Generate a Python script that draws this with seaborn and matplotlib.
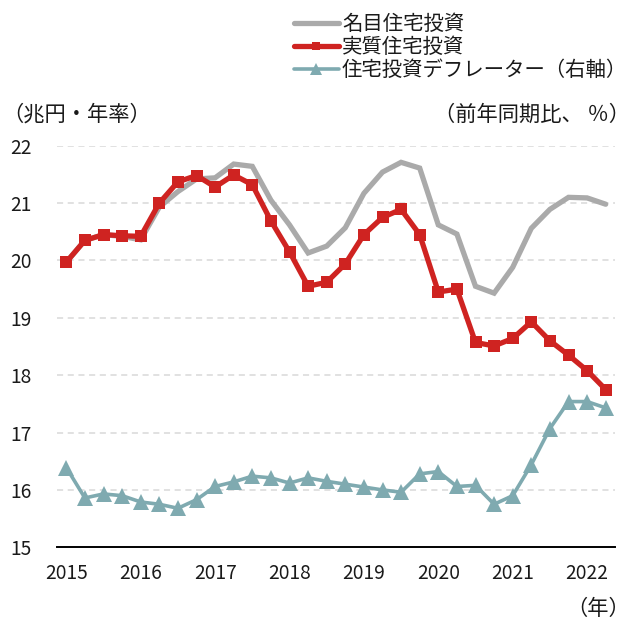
import numpy as np
import pandas as pd
import matplotlib
matplotlib.use("Agg")
import matplotlib.pyplot as plt
import seaborn as sns

# Quarterly series, 2015Q1 - 2022Q2
quarters = [f"{y}Q{q}" for y in range(2015, 2023) for q in range(1, 5)][:30]
nominal = [19.97, 20.35, 20.45, 20.42, 20.36, 20.93, 21.20, 21.42, 21.44, 21.68,
           21.64, 21.05, 20.62, 20.13, 20.25, 20.57, 21.17, 21.54, 21.71, 21.61,
           20.62, 20.46, 19.55, 19.43, 19.88, 20.56, 20.89, 21.10, 21.09, 20.98]
real = [19.97, 20.35, 20.45, 20.43, 20.42, 21.00, 21.37, 21.48, 21.28, 21.49,
        21.32, 20.69, 20.15, 19.55, 19.62, 19.94, 20.45, 20.75, 20.89, 20.45,
        19.45, 19.50, 18.57, 18.51, 18.64, 18.93, 18.60, 18.35, 18.08, 17.75]
deflator = [16.39, 15.86, 15.93, 15.90, 15.79, 15.75, 15.68, 15.83, 16.06, 16.14,
            16.24, 16.21, 16.12, 16.21, 16.15, 16.10, 16.05, 16.00, 15.96, 16.28,
            16.32, 16.06, 16.08, 15.75, 15.90, 16.44, 17.07, 17.54, 17.54, 17.43]
year_labels = ["2015", "2016", "2017", "2018", "2019", "2020", "2021", "2022"]
y_ticks = [15, 16, 17, 18, 19, 20, 21, 22]

series_names = ["名目住宅投資", "実質住宅投資", "住宅投資デフレーター（右軸）"]

df = pd.DataFrame({
    "quarter": quarters,
    "pos": np.arange(len(quarters)),
    "nominal": nominal,
    "real": real,
    "deflator": deflator,
})

sns.set_theme(style="white")
plt.rcParams["font.family"] = ["Noto Sans CJK JP", "DejaVu Sans"]
text_color = "#1a1a1a"

W, H = 632, 619
fig = plt.figure(figsize=(W / 100, H / 100), dpi=100)
ax = fig.add_axes([57 / W, (H - 547.3) / H, (615 - 57) / W, (547.3 - 145.7) / H])

gray = "#aaaaaa"
red = "#cf2321"
teal = "#7faab0"

sns.lineplot(data=df, x="pos", y="nominal", ax=ax, color=gray, lw=3.8,
             label=series_names[0], solid_joinstyle="miter")
sns.lineplot(data=df, x="pos", y="real", ax=ax, color=red, lw=3.8,
             marker="s", markersize=8.3, markeredgewidth=0,
             label=series_names[1])

ax.set_xlim(-0.5, len(quarters) - 0.5)
ax.set_ylim(15, 22)

# right axis for the deflator (labels not shown)
ax2 = ax.twinx()
sns.lineplot(data=df, x="pos", y="deflator", ax=ax2, color=teal, lw=2.6,
             marker="^", markersize=11.5, markeredgewidth=0,
             label=series_names[2])
ax2.set_ylim(15, 22)
ax2.set_xlim(-0.5, len(quarters) - 0.5)
ax2.set_yticks([])
ax2.set_ylabel("")
for s in ax2.spines.values():
    s.set_visible(False)

# y axis
ax.set_yticks(y_ticks)
ax.set_yticklabels([str(v) for v in y_ticks], fontsize=13.8, color=text_color)
ax.tick_params(axis="y", length=0, pad=18)
ax.yaxis.grid(True, linestyle=(0, (4, 3)), color="#d9d9d9", lw=1.1)
ax.xaxis.grid(False)
ax.set_axisbelow(True)

# x axis: ticks between years, labels on the first quarter of each year
year_starts = np.arange(0, len(quarters), 4)
ax.set_xticks(year_starts - 0.5)
ax.set_xticklabels([])
ax.set_xticks(year_starts, minor=True)
ax.set_xticklabels(year_labels, minor=True, fontsize=13.8, color=text_color)
ax.tick_params(axis="x", which="major", direction="in", length=6, width=1.3,
               color="black")
ax.tick_params(axis="x", which="minor", length=0, pad=11)
ax.set_xlabel("")
ax.set_ylabel("")

for name in ["left", "right", "top"]:
    ax.spines[name].set_visible(False)
ax.spines["bottom"].set_color("black")
ax.spines["bottom"].set_linewidth(1.4)

# legend
h1, l1 = ax.get_legend_handles_labels()
h2, l2 = ax2.get_legend_handles_labels()
ax.get_legend().remove()
ax2.get_legend().remove()
fig.legend(h1 + h2, l1 + l2, loc="upper left",
           bbox_to_anchor=(294 / W, 1 - 14 / H), frameon=False,
           fontsize=14.7, handlelength=2.2, handletextpad=0.15,
           labelspacing=0.1, borderpad=0, borderaxespad=0,
           markerscale=0.75, labelcolor=text_color)

# unit labels
fig.text(2 / W, 1 - 115 / H, "（兆円・年率）", ha="left", va="center",
         fontsize=15.3, color=text_color)
fig.text(630 / W, 1 - 115 / H, "（前年同期比、 ％）", ha="right", va="center",
         fontsize=15.3, color=text_color)
fig.text(630 / W, 1 - 609 / H, "（年）", ha="right", va="center",
         fontsize=15.3, color=text_color)

fig.savefig("out.png", dpi=100, facecolor="white")
